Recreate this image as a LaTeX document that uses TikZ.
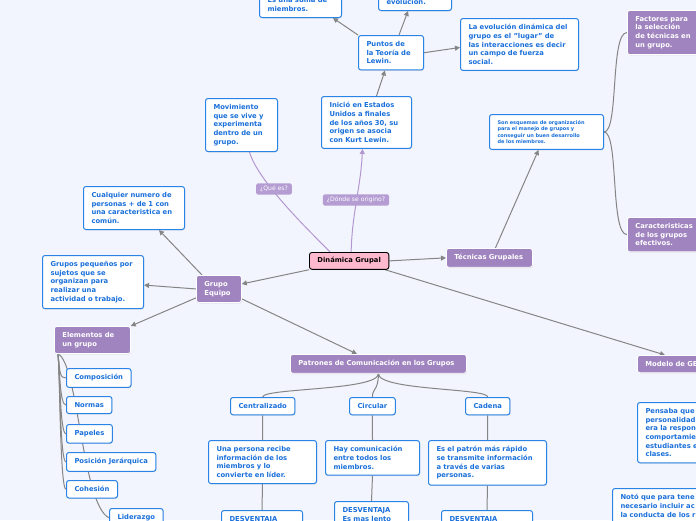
\documentclass[tikz,border=0pt]{standalone}
\usepackage{fontspec}
\setmainfont{DejaVu Sans}
\usepackage{tikz}
\usetikzlibrary{arrows.meta, shadows, backgrounds}
\definecolor{mapbg}{HTML}{F2F5FD}
\definecolor{mappurple}{HTML}{A084BF}
\definecolor{maplabel}{HTML}{B59DD3}
\definecolor{mapline}{HTML}{B497D0}
\definecolor{mapblue}{HTML}{2A84E6}
\definecolor{maptext}{HTML}{1A70DA}
\definecolor{mappink}{HTML}{FFB9CE}
\definecolor{mapgray}{HTML}{858585}

\begin{document}
\begin{tikzpicture}[x=1pt, y=-1pt,
  basebox/.style={rounded corners=2.5pt, anchor=north west, align=left,
    font=\fontsize{6.8}{8.6}\selectfont\bfseries, inner xsep=8pt, inner ysep=6pt,
    drop shadow={opacity=0.25, shadow xshift=0.5pt, shadow yshift=-0.8pt}},
  notebox/.style={basebox, draw=mapblue, line width=1pt, fill=white, text=maptext},
  topicbox/.style={basebox, draw=white, line width=0.8pt, fill=mappurple, text=white},
  rootbox/.style={basebox, draw=black, line width=0.9pt, fill=mappink, text=black,
    inner ysep=5pt},
  tagbox/.style={rounded corners=1.5pt, fill=maplabel, text=white,
    font=\fontsize{6.1}{7}\selectfont, inner xsep=4pt, inner ysep=2.5pt},
  arr/.style={-{Triangle[length=5pt, width=5pt]}, mapgray, line width=1pt},
  treeline/.style={mapgray, line width=1pt},
  qline/.style={mapline, line width=1pt}
]
  \useasboundingbox (0,0) rectangle (696,520);
  \clip (0,0) rectangle (696,520);

  % Centre
  \node[rootbox] (dinamica) at (309,252) {Dinámica Grupal};

  % Main topics
  \node[topicbox, text width=29pt] (grupo) at (196,275) {Grupo\\Equipo};
  \node[topicbox, text width=60pt] (elementos) at (54,326) {Elementos de\\un grupo};
  \node[topicbox, text width=70pt] (tecnicas) at (446,248) {Técnicas Grupales};
  \node[topicbox, text width=160pt] (patrones) at (290,354)
    {Patrones de Comunicación en los Grupos};
  \node[topicbox, text width=124pt] (modelo) at (637,355) {Modelo de GE};
  \node[topicbox, text width=70pt] (factores) at (627,10)
    {Factores para\\la selección\\de técnicas en\\un grupo.};
  \node[topicbox, text width=70pt] (caract) at (627,217)
    {Caracteristicas\\de los grupos\\efectivos.};

  % Upper notes
  \node[notebox, anchor=south west, text width=66pt] (suma) at (259,18)
    {Es una suma de\\miembros.};
  \node[notebox, anchor=south west, text width=57pt] (evol) at (378,11) {evolución.};
  \node[notebox, text width=49pt] (puntos) at (358,35) {Puntos de\\la Teoría de\\Lewin.};
  \node[notebox, text width=102pt] (evoldin) at (460,18)
    {La evolución dinámica del\\grupo es el "lugar"  de\\las interacciones es decir\\un campo de fuerza\\social.};
  \node[notebox, text width=56pt] (movim) at (205,98)
    {Movimiento\\que se vive y\\experimenta\\dentro de un\\grupo.};
  \node[notebox, text width=74pt] (inicio) at (321,96)
    {Inició en Estados\\Unidos a finales\\de los años 30, su\\origen se asocia\\con Kurt Lewin.};
  \node[notebox, text width=98pt, font=\fontsize{5}{6.3}\selectfont\bfseries] (esquemas)
    at (489,114)
    {Son esquemas de organización\\para el manejo de grupos y\\conseguir un buen desarrollo\\de los miembros.};

  % Left notes
  \node[notebox, text width=85pt] (cualquier) at (83,186)
    {Cualquier numero de\\personas + de 1 con\\una caracteristica en\\común.};
  \node[notebox, text width=85pt] (pequenos) at (42,255)
    {Grupos pequeños por\\sujetos que se\\organizan para\\realizar una\\actividad o trabajo.};

  % Elements of a group
  \node[notebox] (compos) at (66,368) {Composición};
  \node[notebox] (normas) at (66,396) {Normas};
  \node[notebox] (papeles) at (66,424) {Papeles};
  \node[notebox] (posicion) at (66,452) {Posición Jerárquica};
  \node[notebox] (cohesion) at (66,480) {Cohesión};
  \node[notebox] (liderazgo) at (109,508) {Liderazgo};

  % Communication patterns
  \node[notebox] (central) at (230,397) {Centralizado};
  \node[notebox] (circular) at (349,397) {Circular};
  \node[notebox] (cadena) at (465,397) {Cadena};
  \node[notebox, text width=92pt] (persona) at (208,440)
    {Una persona recibe\\información de los\\miembros y lo\\convierte en líder.};
  \node[notebox, text width=78pt] (hay) at (325,440)
    {Hay comunicación\\entre todos los\\miembros.};
  \node[notebox, text width=102pt] (patron) at (428,440)
    {Es el patrón más rápido\\se transmite información\\a través de varias\\personas.};
  \node[notebox, text width=65pt] (desv1) at (221,510) {DESVENTAJA};
  \node[notebox, text width=58pt] (desv2) at (334,501) {DESVENTAJA\\Es mas lento};
  \node[notebox, text width=75pt] (desv3) at (441,510) {DESVENTAJA};

  % Right notes
  \node[notebox, text width=110pt] (pensaba) at (637,402)
    {Pensaba que\\personalidad\\era la respon\\comportamie\\estudiantes e\\clases.};
  \node[notebox, text width=120pt] (noto) at (612,488)
    {Notó que para tene\\necesario incluir ac\\la conducta de los r};

  % Question labels
  \node[tagbox] (quees) at (274,189) {¿Qué es?};
  \node[tagbox] (donde) at (356,200) {¿Dónde se origino?};

  \begin{scope}[on background layer]
    \fill[mapbg] (0,0) rectangle (696,520);

    % Questions
    \draw[qline] ([xshift=-19pt]dinamica.north) .. controls +(-25,-25) and +(8,28)
      .. ([xshift=8pt]movim.south);
    \draw[qline, -{Triangle[length=5pt, width=5pt]}] ([xshift=2pt]dinamica.north)
      .. controls +(1,-40) and +(-2,40) .. ([xshift=-4pt]inicio.south);

    % From the centre
    \draw[arr] (dinamica.south west) -- ([yshift=5pt]grupo.east);
    \draw[arr] (dinamica.east) -- (tecnicas.west);
    \draw[arr] ([xshift=-4pt]dinamica.south east) -- ([xshift=28pt]modelo.north west);

    % Grupo Equipo
    \draw[arr] ([xshift=6pt]grupo.north west) -- ([xshift=-26pt]cualquier.south east);
    \draw[arr] (grupo.west) -- ([yshift=-3pt]pequenos.east);
    \draw[arr] ([yshift=5pt]grupo.south west) -- (elementos.north east);
    \draw[arr] ([yshift=4pt]grupo.south east) -- ([xshift=67pt]patrones.north west);

    % Lewin
    \draw[arr] ([xshift=10pt]inicio.north) -- ([xshift=-6pt]puntos.south);
    \draw[arr] (puntos.north west) -- ([xshift=-9pt]suma.south east);
    \draw[arr] ([xshift=8pt]puntos.north) -- ([xshift=-7pt]evol.south);
    \draw[arr] (puntos.east) -- ([yshift=-3pt]evoldin.west);

    % Técnicas
    \draw[arr] ([xshift=6pt]tecnicas.north) -- ([xshift=-8pt]esquemas.south);
    \foreach \c in {factores, caract}
      \draw[treeline] (esquemas.east) .. controls +(15,0) and +(-17,0) .. (\c.west);

    % Elementos tree
    \foreach \c in {compos, normas, papeles, posicion, cohesion}
      \draw[treeline] ([xshift=4pt]elementos.south west) .. controls +(2,20) and +(-6,0)
        .. (\c.west);
    \draw[treeline] ([xshift=4pt]elementos.south west) .. controls +(20,8) and +(-27,-13)
      .. (liderazgo.west);

    % Patrones tree
    \foreach \c in {central, circular, cadena}
      \draw[treeline] (patrones.south) .. controls +(0,17) and +(0,-9) .. (\c.north);
    \draw[treeline] (central.south) -- (persona.north);
    \draw[treeline] (persona.south) -- (desv1.north);
    \draw[treeline] (circular.south) -- (hay.north);
    \draw[treeline] (hay.south) -- (desv2.north);
    \draw[treeline] (cadena.south) -- (patron.north);
    \draw[treeline] (patron.south) -- (desv3.north);

    % Modelo
    \draw[treeline] (modelo.south) .. controls +(0,14) and +(0,-14) .. (pensaba.north);
  \end{scope}
\end{tikzpicture}
\end{document}
